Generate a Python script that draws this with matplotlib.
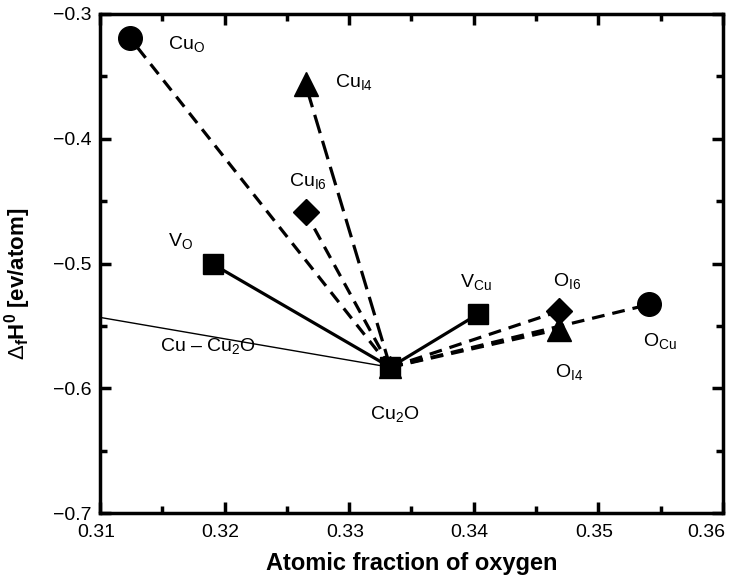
import matplotlib
matplotlib.use("Agg")
import matplotlib.pyplot as plt
import matplotlib.transforms as mtransforms
from matplotlib.ticker import MultipleLocator

plt.rcParams['font.family'] = ['Liberation Sans', 'DejaVu Sans']
plt.rcParams['mathtext.fontset'] = 'custom'
plt.rcParams['mathtext.rm'] = 'Liberation Sans'
plt.rcParams['mathtext.it'] = 'Liberation Sans:italic'
plt.rcParams['mathtext.bf'] = 'Liberation Sans:bold'

# Reference compound
cu2o = (0.3333, -0.5832)

# Defects: name, x, y, marker, line style
defect_names = ['Cu$_\\mathrm{O}$', 'Cu$_\\mathrm{I4}$', 'Cu$_\\mathrm{I6}$', 'V$_\\mathrm{O}$',
                'V$_\\mathrm{Cu}$', 'O$_\\mathrm{I6}$', 'O$_\\mathrm{I4}$', 'O$_\\mathrm{Cu}$']
defect_x = [0.3124, 0.3265, 0.3265, 0.3191, 0.3403, 0.3468, 0.3468, 0.3541]
defect_y = [-0.3192, -0.3565, -0.4590, -0.5008, -0.5408, -0.5384, -0.5528, -0.5328]
defect_markers = ['o', '^', 'D', 's', 's', 'D', '^', 'o']
defect_ls = ['dash', 'longdash', 'dash', 'solid', 'solid', 'dash', 'dash', 'dash']
label_x = [0.31546, 0.32886, 0.32517, 0.31546, 0.33889, 0.34636, 0.34652, 0.35358]
label_y = [-0.3240, -0.3544, -0.4336, -0.4816, -0.5152, -0.5144, -0.5872, -0.5624]

# Cu - Cu2O tie line
tie_x = [0.31, 0.3333]
tie_y = [-0.5432, -0.5832]

x_ticks = [0.31, 0.32, 0.33, 0.34, 0.35, 0.36]
x_ticklabels = ['0.31', '0.32', '0.33', '0.34', '0.35', '0.36']
y_ticks = [-0.7, -0.6, -0.5, -0.4, -0.3]
y_ticklabels = ['−0.7', '−0.6', '−0.5', '−0.4', '−0.3']

fig = plt.figure(figsize=(7.31, 5.84), dpi=100)
ax = fig.add_axes([100/731, 1-513/584, 623/731, 499/584])

ax.plot(tie_x, tie_y, color='black', lw=1.0, zorder=2)
ax.text(0.31482, -0.5664, 'Cu – Cu$_2$O', fontsize=14, va='center', ha='left')

marker_sizes = {'o': 17, '^': 17, 'D': 13, 's': 14}
for name, x, y, m, ls, lx, ly in zip(defect_names, defect_x, defect_y, defect_markers,
                                      defect_ls, label_x, label_y):
    if ls == 'solid':
        kw = dict(linestyle='-')
    elif ls == 'longdash':
        kw = dict(linestyle=(0, (6, 2.5)))
    else:
        kw = dict(linestyle=(0, (4, 2.5)))
    ax.plot([cu2o[0], x], [cu2o[1], y], color='black', lw=2.3, zorder=3, **kw)
    ax.plot([x], [y], marker=m, color='black', markersize=marker_sizes[m], zorder=4,
            linestyle='none')
    ax.text(lx, ly, name, fontsize=14, va='center', ha='left')

# Cu2O marker (overlapping shapes)
ax.plot([cu2o[0]], [cu2o[1]], marker='s', color='black', markersize=14, zorder=5)
ax.plot([cu2o[0]], [cu2o[1]], marker='^', color='black', markersize=16, zorder=5)
ax.text(0.33167, -0.6208, 'Cu$_2$O', fontsize=14, va='center', ha='left')

ax.set_xlim(0.31, 0.36)
ax.set_ylim(-0.7, -0.3)
ax.set_xticks(x_ticks)
ax.set_xticklabels(x_ticklabels)
ax.set_yticks(y_ticks)
ax.set_yticklabels(y_ticklabels)
ax.xaxis.set_minor_locator(MultipleLocator(0.005))
ax.yaxis.set_minor_locator(MultipleLocator(0.05))

ax.tick_params(which='both', direction='in', top=True, right=True, labelsize=14,
               width=2.5, color='black')
ax.tick_params(which='major', length=8)
ax.tick_params(axis='x', which='major', pad=8)
ax.tick_params(axis='y', which='major', pad=6)
ax.tick_params(which='minor', length=5)
for s in ax.spines.values():
    s.set_linewidth(2.5)

# shift x tick labels slightly left, last one more so it stays inside the figure
labels = ax.get_xticklabels()
for i, lab in enumerate(labels):
    dx = -12 / 72 if i == len(labels) - 1 else -3 / 72
    lab.set_transform(lab.get_transform() +
                      mtransforms.ScaledTranslation(dx, 0, fig.dpi_scale_trans))

ax.set_xlabel('Atomic fraction of oxygen', fontsize=17, fontweight='bold', labelpad=8)
ax.set_ylabel(r'$\Delta_{\mathbf{f}}\mathbf{H}^{\mathbf{0}}$ [ev/atom]', fontsize=16,
              fontweight='bold')
ax.yaxis.set_label_coords(-0.1075, 0.459)

fig.savefig('out.png', dpi=100)
